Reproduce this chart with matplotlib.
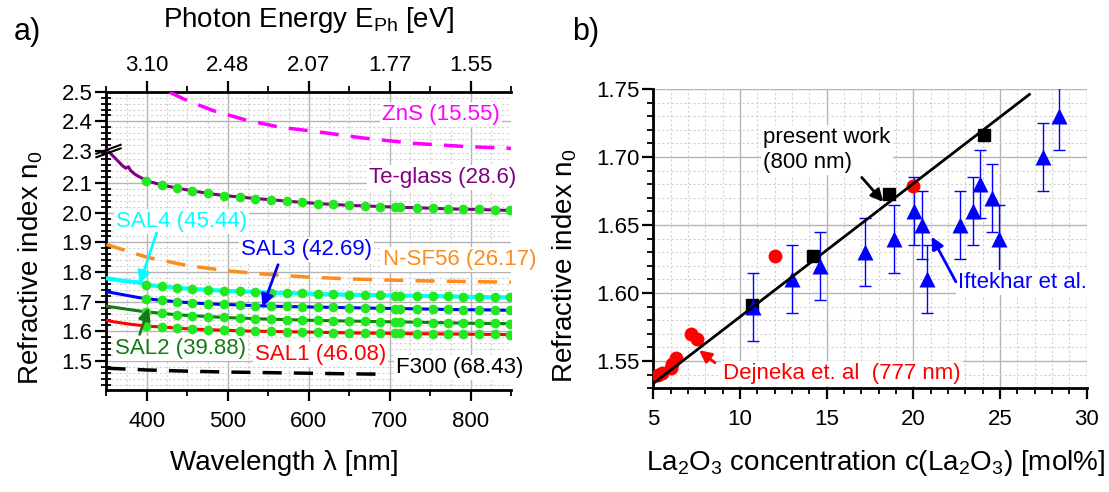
import numpy as np
import matplotlib.pyplot as plt
from matplotlib.ticker import MultipleLocator, FixedLocator

plt.rcParams['font.family'] = ['Liberation Sans', 'DejaVu Sans']
plt.rcParams['mathtext.default'] = 'regular'

# ---------------- panel a data ----------------
BREAK_OFFSET = 0.092  # values above the axis break (2.3 - 2.5) are drawn shifted down

wl_pre = [350, 360, 370, 380, 390]
wl_dots = [399, 418, 437, 456, 476, 495, 515, 533, 553, 573, 592, 611, 630, 650,
           669, 688, 706, 713, 733, 753, 772, 791, 810, 830, 848]

sal4_pre = [1.779, 1.775, 1.771, 1.768, 1.765]
sal4_dots = [1.757, 1.752, 1.747, 1.743, 1.740, 1.737, 1.735, 1.733, 1.731, 1.729, 1.728,
             1.726, 1.725, 1.724, 1.723, 1.722, 1.721, 1.721, 1.720, 1.719, 1.718, 1.717,
             1.716, 1.715, 1.715]
sal3_pre = [1.734, 1.729, 1.724, 1.719, 1.714]
sal3_dots = [1.710, 1.705, 1.700, 1.696, 1.693, 1.691, 1.689, 1.687, 1.685, 1.684, 1.683,
             1.682, 1.681, 1.680, 1.679, 1.678, 1.677, 1.677, 1.676, 1.675, 1.674, 1.673,
             1.673, 1.672, 1.671]
sal2_pre = [1.685, 1.681, 1.677, 1.673, 1.669]
sal2_dots = [1.666, 1.661, 1.656, 1.653, 1.650, 1.647, 1.645, 1.643, 1.641, 1.640, 1.638,
             1.637, 1.636, 1.635, 1.634, 1.633, 1.632, 1.632, 1.631, 1.630, 1.629, 1.628,
             1.627, 1.627, 1.626]
sal1_pre = [1.637, 1.632, 1.628, 1.624, 1.621]
sal1_dots = [1.618, 1.615, 1.611, 1.608, 1.606, 1.604, 1.602, 1.601, 1.600, 1.599, 1.598,
             1.597, 1.596, 1.595, 1.594, 1.594, 1.593, 1.593, 1.592, 1.592, 1.591, 1.591,
             1.590, 1.590, 1.589]

wl_te_pre = [350, 355, 360, 365, 370, 374, 377, 380, 385, 390, 395]
te_pre = [2.212, 2.200, 2.186, 2.172, 2.158, 2.150, 2.155, 2.142, 2.130, 2.122, 2.115]
te_dots = [2.108, 2.094, 2.083, 2.074, 2.065, 2.058, 2.053, 2.048, 2.044, 2.039, 2.035,
           2.031, 2.028, 2.025, 2.023, 2.021, 2.019, 2.018, 2.017, 2.015, 2.013, 2.012,
           2.011, 2.009, 2.008]

wl_zns = [428, 450, 482, 523, 565, 605, 667, 729, 795, 850]
n_zns = [2.498, 2.470, 2.436, 2.404, 2.380, 2.367, 2.344, 2.326, 2.315, 2.309]

wl_nsf = [350, 400, 450, 500, 550, 600, 650, 700, 750, 800, 850]
n_nsf = [1.893, 1.850, 1.822, 1.804, 1.792, 1.783, 1.777, 1.773, 1.770, 1.768, 1.766]

wl_f300 = [350, 400, 450, 500, 550, 600, 650, 685]
n_f300 = [1.476, 1.470, 1.466, 1.463, 1.461, 1.459, 1.457, 1.456]

top_ticks = [400, 500, 600, 700, 800]
top_labels = ['3.10', '2.48', '2.07', '1.77', '1.55']

# ---------------- panel b data ----------------
pw_x = [10.68, 14.23, 18.62, 24.08]
pw_y = [1.591, 1.627, 1.673, 1.716]

dej_x = [5.3, 5.5, 6.0, 6.1, 6.3, 7.2, 7.5, 12.0, 20.0]
dej_y = [1.540, 1.541, 1.545, 1.548, 1.552, 1.570, 1.566, 1.627, 1.679]

ift_x = [10.77, 12.99, 14.62, 17.2, 18.89, 20.04, 20.49, 20.81, 22.7, 23.43, 23.85,
         24.56, 24.97, 27.5, 28.41]
ift_y = [1.590, 1.610, 1.620, 1.630, 1.640, 1.660, 1.650, 1.610, 1.650, 1.660, 1.680,
         1.670, 1.640, 1.700, 1.730]
ift_err = [0.025] * len(ift_x)

fit_x = [5.0, 26.7]
fit_y = [1.5335, 1.746]

fig = plt.figure(figsize=(11.09, 4.92), dpi=100)

# =============== panel a ===============
ax = fig.add_axes([0.096, 0.2073, 0.365, 0.6063])
ax.set_xlim(350, 850)
ax.set_ylim(1.4025, 2.5 - BREAK_OFFSET)

lime = '#22e822'
curves = [(sal1_pre, sal1_dots, '#ff0000', 2.2),
          (sal2_pre, sal2_dots, '#157a15', 2.2),
          (sal3_pre, sal3_dots, '#0000ff', 2.2),
          (sal4_pre, sal4_dots, '#00ffff', 3.0)]
for pre, dots, col, lw in curves:
    ax.plot(wl_pre + wl_dots, pre + dots, color=col, lw=lw, zorder=3)
    ax.plot(wl_dots, dots, 'o', color=lime, ms=7, mec='none', zorder=4)
ax.plot(wl_te_pre + wl_dots, te_pre + te_dots, color='#800080', lw=2.2, zorder=3)
ax.plot(wl_dots, te_dots, 'o', color=lime, ms=7, mec='none', zorder=4)

ax.plot(wl_zns, np.array(n_zns) - BREAK_OFFSET, color='#ff00ff', lw=2.5,
        dashes=(5.5, 3.5), zorder=3)
ax.plot(wl_nsf, n_nsf, color='#ff8c1a', lw=2.5, dashes=(5.5, 3.5), zorder=3)
ax.plot(wl_f300, n_f300, color='black', lw=2.5, dashes=(5.5, 3.5), zorder=3)

# ticks
yt_lower = [1.5, 1.6, 1.7, 1.8, 1.9, 2.0, 2.1]
yt_upper = [2.3, 2.4, 2.5]
ax.yaxis.set_major_locator(FixedLocator(yt_lower + [v - BREAK_OFFSET for v in yt_upper]))
ax.set_yticklabels([f'{v:.1f}' for v in yt_lower + yt_upper])
minor_y = list(np.arange(1.42, 2.21, 0.02)) + [v - BREAK_OFFSET for v in np.arange(2.32, 2.49, 0.02)]
ax.yaxis.set_minor_locator(FixedLocator(minor_y))
ax.xaxis.set_major_locator(MultipleLocator(100))
ax.xaxis.set_minor_locator(MultipleLocator(50))
ax.tick_params(which='major', direction='out', length=8, width=1.6, labelsize=16)
ax.tick_params(which='minor', direction='out', length=4, width=1.3)
ax.tick_params(axis='y', which='minor', direction='inout', length=7)
ax.tick_params(axis='x', which='major', pad=7)
ax.tick_params(axis='y', which='major', pad=2)

ax.grid(which='major', color='#b4b4b4', lw=1.0, zorder=0)
ax.grid(which='minor', axis='y', color='#d2d2d2', lw=0.8, ls=(0, (2, 2)), zorder=0)
for xv in np.arange(375, 850, 25):
    if xv % 100:
        ax.axvline(xv, color='#d2d2d2', lw=0.8, ls=(0, (2, 2)), zorder=0)
ax.yaxis.get_major_ticks()[7].gridline.set_visible(False)

for side in ['left', 'bottom', 'top']:
    ax.spines[side].set_linewidth(2)
ax.spines['right'].set_visible(False)

# axis break marks on left spine
yb = 2.3 - BREAK_OFFSET
for dy in (-0.006, 0.006):
    ax.plot([-0.025, 0.035], [yb + dy - 0.015, yb + dy + 0.015], color='black', lw=1.5,
            transform=ax.get_yaxis_transform(), clip_on=False, zorder=6)

ax.set_xlabel('Wavelength λ [nm]', fontsize=20, labelpad=8)
ax.xaxis.set_label_coords(0.44, -0.2)
ax.set_ylabel('Refractive index n$_0$', fontsize=20)
ax.yaxis.set_label_coords(-0.152, 0.41)

axt = ax.twiny()
axt.set_xlim(ax.get_xlim())
axt.set_xticks(top_ticks)
axt.set_xticklabels(top_labels)
axt.xaxis.set_minor_locator(MultipleLocator(50))
axt.tick_params(which='major', direction='out', length=8, width=1.6, labelsize=16)
axt.tick_params(which='minor', direction='out', length=4, width=1.3)
for s in axt.spines.values():
    s.set_visible(False)
axt.set_xlabel('Photon Energy E$_{Ph}$ [eV]', fontsize=20, labelpad=20)

box = dict(facecolor='white', edgecolor='none', pad=1.5)
ax.text(836, 2.33, 'ZnS (15.55)', color='#ff00ff', fontsize=16, ha='right', va='center', bbox=box, zorder=5)
ax.text(856, 2.12, 'Te-glass (28.6)', color='#800080', fontsize=16, ha='right', va='center', bbox=box, zorder=5)
ax.text(691, 1.842, 'N-SF56 (26.17)', color='#ff8c1a', fontsize=16, ha='left', va='center', bbox=box, zorder=5, clip_on=False)
ax.text(678, 1.876, 'SAL3 (42.69)', color='#0000ff', fontsize=16, ha='right', va='center', bbox=box, zorder=5)
ax.text(362, 1.971, 'SAL4 (45.44)', color='#00ffff', fontsize=16, ha='left', va='center', bbox=box, zorder=5)
ax.text(360, 1.542, 'SAL2 (39.88)', color='#157a15', fontsize=16, ha='left', va='center', bbox=box, zorder=5)
ax.text(695, 1.523, 'SAL1 (46.08)', color='#ff0000', fontsize=16, ha='right', va='center', bbox=box, zorder=5)
ax.text(708, 1.478, 'F300 (68.43)', color='black', fontsize=16, ha='left', va='center', bbox=box, zorder=5, clip_on=False)

def arrow(a, start, tip, col):
    a.annotate('', xy=tip, xytext=start, zorder=6,
               arrowprops=dict(arrowstyle='-|>', color=col, lw=2, mutation_scale=18,
                               shrinkA=0, shrinkB=0))

arrow(ax, (412, 1.932), (391, 1.761), '#00ffff')
arrow(ax, (391, 1.590), (402, 1.680), '#157a15')
arrow(ax, (562, 1.825), (543, 1.683), '#0000ff')

# =============== panel b ===============
bx = fig.add_axes([0.589, 0.2108, 0.3908, 0.6083])
bx.set_xlim(5, 30)
bx.set_ylim(1.53, 1.75)

bx.plot(pw_x, pw_y, 's', color='black', ms=9, zorder=3)
bx.errorbar(ift_x, ift_y, yerr=ift_err, fmt='none', ecolor='#0000ff', elinewidth=1,
            capsize=4, capthick=1, zorder=3)
bx.plot(ift_x, ift_y, '^', color='#0000ff', ms=11, mec='none', zorder=4)
bx.plot(dej_x, dej_y, 'o', color='#ff0000', ms=10, mec='none', zorder=4)
bx.plot(fit_x, fit_y, color='black', lw=2, zorder=5)

bx.xaxis.set_major_locator(MultipleLocator(5))
bx.xaxis.set_minor_locator(MultipleLocator(1))
bx.yaxis.set_major_locator(MultipleLocator(0.05))
bx.yaxis.set_minor_locator(MultipleLocator(0.01))
bx.yaxis.set_major_formatter(plt.FormatStrFormatter('%.2f'))
bx.tick_params(which='major', direction='out', length=8, width=1.6, labelsize=16)
bx.tick_params(which='minor', direction='out', length=4, width=1.3)
bx.tick_params(axis='x', which='major', pad=7)
bx.tick_params(axis='y', which='major', pad=2)
bx.grid(which='major', color='#b4b4b4', lw=1.0, zorder=0)
bx.grid(which='minor', color='#d2d2d2', lw=0.8, ls=(0, (2, 2)), zorder=0)
for side in ['left', 'bottom']:
    bx.spines[side].set_linewidth(2)
for side in ['right', 'top']:
    bx.spines[side].set_visible(False)

bx.set_xlabel('La$_2$O$_3$ concentration c(La$_2$O$_3$) [mol%]', fontsize=20)
bx.xaxis.set_label_coords(0.514, -0.2)
bx.set_ylabel('Refractive index n$_0$', fontsize=20)
bx.yaxis.set_label_coords(-0.172, 0.41)

bx.text(11.35, 1.705, 'present work\n(800 nm)', fontsize=16, ha='left', va='center',
        linespacing=1.25, bbox=box, zorder=5)
bx.text(22.6, 1.6076, 'Iftekhar et al.', color='#0000ff', fontsize=16, ha='left',
        va='center', bbox=box, zorder=5, clip_on=False)
bx.text(9.04, 1.541, 'Dejneka et. al  (777 nm)', color='#ff0000', fontsize=16,
        ha='left', va='center', bbox=box, zorder=5)
arrow(bx, (17.03, 1.685), (18.27, 1.667), 'black')
arrow(bx, (22.46, 1.6083), (21.06, 1.6414), '#0000ff')
arrow(bx, (8.56, 1.5488), (7.65, 1.558), '#ff0000')

fig.text(0.012, 0.965, 'a)', fontsize=22, ha='left', va='top')
fig.text(0.516, 0.965, 'b)', fontsize=22, ha='left', va='top')

fig.savefig('out.png', dpi=100)
